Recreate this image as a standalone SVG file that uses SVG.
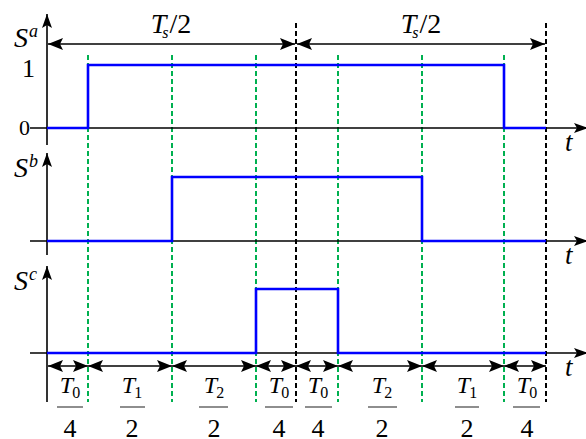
<svg xmlns="http://www.w3.org/2000/svg" width="586" height="439" viewBox="0 0 586 439" font-family="'Liberation Serif', 'Times New Roman', serif">
<style>
text, tspan{font-family:"Liberation Serif","Times New Roman",serif;fill:#000}
.it{font-style:italic}
.ax{stroke:#000;stroke-width:1.6;fill:none}
.sig{stroke:#0000FF;stroke-width:2.6;fill:none;stroke-linejoin:miter}
.gd{stroke:#00B050;stroke-width:2;stroke-dasharray:5,3;fill:none}
.bd{stroke:#000;stroke-width:2;stroke-dasharray:5,3;fill:none}
.dim{stroke:#000;stroke-width:1.5;fill:none}
.bar{stroke:#444;stroke-width:1.2}
</style>
<defs>
<marker id="ah" viewBox="-15 -6 15 12" refX="0" refY="0" markerWidth="15" markerHeight="12" orient="auto-start-reverse" markerUnits="userSpaceOnUse"><path d="M-15,-6 L0,0 L-15,6 L-12,0 Z" fill="#000"/></marker>
<marker id="ax" viewBox="-14 -5 14 10" refX="0" refY="0" markerWidth="14" markerHeight="10" orient="auto" markerUnits="userSpaceOnUse"><path d="M-14,-5 L0,0 L-14,5 L-11,0 Z" fill="#000"/></marker>
</defs>

<g id="guides">
<path class="gd" d="M88,55V402M172,55V402M256,55V402M338,55V402M422,55V402M504,55V402"/>
<path class="bd" d="M296,23V402M546,23V402"/>
</g>

<g id="axes">
<path class="ax" d="M47,145V14" marker-end="url(#ax)"/>
<path class="ax" d="M30,128H588" marker-end="url(#ax)"/>
<path class="ax" d="M47,255V153" marker-end="url(#ax)"/>
<path class="ax" d="M30,241H588" marker-end="url(#ax)"/>
<path class="ax" d="M47,402V266" marker-end="url(#ax)"/>
<path class="ax" d="M30,353H588" marker-end="url(#ax)"/>
</g>

<g id="signal-a"><path class="sig" d="M47,128H88V65H504V128H546"/></g>
<g id="signal-b"><path class="sig" d="M47,241H172V177H422V241H546"/></g>
<g id="signal-c"><path class="sig" d="M47,353H256V289H338V353H546"/></g>

<g id="connectors">
<line class="dim" x1="48" y1="44" x2="295" y2="44" marker-start="url(#ah)" marker-end="url(#ah)"/>
<line class="dim" x1="297" y1="44" x2="545" y2="44" marker-start="url(#ah)" marker-end="url(#ah)"/>
<line class="dim" x1="48" y1="366" x2="88" y2="366" marker-start="url(#ah)" marker-end="url(#ah)"/>
<line class="dim" x1="88" y1="366" x2="172" y2="366" marker-start="url(#ah)" marker-end="url(#ah)"/>
<line class="dim" x1="172" y1="366" x2="256" y2="366" marker-start="url(#ah)" marker-end="url(#ah)"/>
<line class="dim" x1="256" y1="366" x2="296" y2="366" marker-start="url(#ah)" marker-end="url(#ah)"/>
<line class="dim" x1="296" y1="366" x2="338" y2="366" marker-start="url(#ah)" marker-end="url(#ah)"/>
<line class="dim" x1="338" y1="366" x2="422" y2="366" marker-start="url(#ah)" marker-end="url(#ah)"/>
<line class="dim" x1="422" y1="366" x2="504" y2="366" marker-start="url(#ah)" marker-end="url(#ah)"/>
<line class="dim" x1="504" y1="366" x2="546" y2="366" marker-start="url(#ah)" marker-end="url(#ah)"/>
</g>

<g id="labels">
<text x="14" y="47" font-size="28" class="it">S<tspan font-size="18" dy="-10" dx="1">a</tspan></text>
<text x="14" y="177" font-size="28" class="it">S<tspan font-size="18" dy="-10" dx="1">b</tspan></text>
<text x="14" y="290" font-size="28" class="it">S<tspan font-size="18" dy="-10" dx="1">c</tspan></text>
<text x="22" y="77" font-size="26">1</text>
<text x="19" y="135" font-size="22">0</text>
<text x="565" y="151" font-size="27" class="it">t</text>
<text x="565" y="264" font-size="27" class="it">t</text>
<text x="565" y="376" font-size="27" class="it">t</text>
<text x="171" y="33" font-size="28" text-anchor="middle"><tspan class="it">T</tspan><tspan font-size="16" class="it" dy="5" dx="-4">s</tspan><tspan dy="-5" dx="1">/2</tspan></text>
<text x="421" y="33" font-size="28" text-anchor="middle"><tspan class="it">T</tspan><tspan font-size="16" class="it" dy="5" dx="-4">s</tspan><tspan dy="-5" dx="1">/2</tspan></text>
</g>

<g id="fractions" font-size="24">
<g id="f1"><text x="70" y="393" text-anchor="middle"><tspan class="it">T</tspan><tspan font-size="16" dy="5" dx="-1">0</tspan></text><line class="bar" x1="57" y1="407" x2="83" y2="407"/><text x="70" y="437" text-anchor="middle" font-size="26">4</text></g>
<g id="f2"><text x="132" y="393" text-anchor="middle"><tspan class="it">T</tspan><tspan font-size="16" dy="5" dx="-1">1</tspan></text><line class="bar" x1="120" y1="407" x2="145" y2="407"/><text x="132" y="437" text-anchor="middle" font-size="26">2</text></g>
<g id="f3"><text x="214" y="393" text-anchor="middle"><tspan class="it">T</tspan><tspan font-size="16" dy="5" dx="-1">2</tspan></text><line class="bar" x1="199" y1="407" x2="228" y2="407"/><text x="214" y="437" text-anchor="middle" font-size="26">2</text></g>
<g id="f4"><text x="279" y="393" text-anchor="middle"><tspan class="it">T</tspan><tspan font-size="16" dy="5" dx="-1">0</tspan></text><line class="bar" x1="265" y1="407" x2="293" y2="407"/><text x="279" y="437" text-anchor="middle" font-size="26">4</text></g>
<g id="f5"><text x="318" y="393" text-anchor="middle"><tspan class="it">T</tspan><tspan font-size="16" dy="5" dx="-1">0</tspan></text><line class="bar" x1="305" y1="407" x2="332" y2="407"/><text x="318" y="437" text-anchor="middle" font-size="26">4</text></g>
<g id="f6"><text x="382" y="393" text-anchor="middle"><tspan class="it">T</tspan><tspan font-size="16" dy="5" dx="-1">2</tspan></text><line class="bar" x1="368" y1="407" x2="397" y2="407"/><text x="382" y="437" text-anchor="middle" font-size="26">2</text></g>
<g id="f7"><text x="467" y="393" text-anchor="middle"><tspan class="it">T</tspan><tspan font-size="16" dy="5" dx="-1">1</tspan></text><line class="bar" x1="455" y1="407" x2="479" y2="407"/><text x="467" y="437" text-anchor="middle" font-size="26">2</text></g>
<g id="f8"><text x="527" y="393" text-anchor="middle"><tspan class="it">T</tspan><tspan font-size="16" dy="5" dx="-1">0</tspan></text><line class="bar" x1="513" y1="407" x2="540" y2="407"/><text x="527" y="437" text-anchor="middle" font-size="26">4</text></g>
</g>
</svg>
